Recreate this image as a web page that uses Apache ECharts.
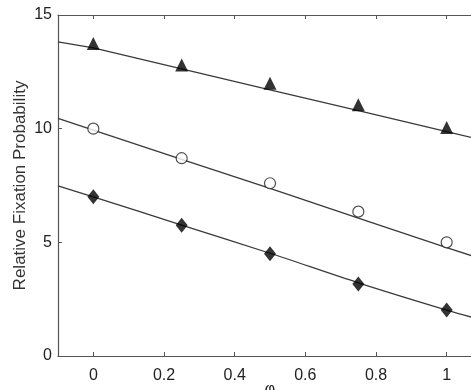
<!DOCTYPE html>
<html>
<head>
<meta charset="utf-8">
<script src="https://cdn.jsdelivr.net/npm/echarts@6/dist/echarts.min.js"></script>
<style>
  html, body { margin: 0; padding: 0; background: #fff; }
  #chart { width: 471px; height: 390px; }
</style>
</head>
<body>
<div id="chart"></div>
<script>
// Data
var xPoints = [0, 0.25, 0.5, 0.75, 1];
var triangles = [13.75, 12.8, 12.0, 11.05, 10.05];
var circles = [10.0, 8.7, 7.6, 6.35, 5.0];
var diamonds = [7.0, 5.75, 4.5, 3.17, 2.02];

// fitted curves, sampled along x
var fitX = [-0.1, 0, 0.25, 0.5, 0.75, 1, 1.1];
var fitTriangles = [13.82, 13.55, 12.63, 11.71, 10.79, 9.87, 9.5];
var fitCircles = [10.45, 9.94, 8.65, 7.37, 6.07, 4.77, 4.26];
var fitDiamonds = [7.48, 7.0, 5.76, 4.52, 3.22, 2.02, 1.58];

var xTicks = [0, 0.2, 0.4, 0.6, 0.8, 1];

function pairs(xs, ys) {
    var out = [];
    for (var i = 0; i < xs.length; i++) {
        out.push([xs[i], ys[i]]);
    }
    return out;
}

var chart = echarts.init(document.getElementById('chart'));

var font = 'Liberation Sans, Arial, sans-serif';
var axisColor = '#555';
var lineColor = '#3a3a3a';

function fitSeries(ys, smooth) {
    return {
        type: 'line',
        data: pairs(fitX, ys),
        smooth: smooth,
        showSymbol: false,
        symbol: 'none',
        lineStyle: { color: lineColor, width: 1.3 },
        z: 2,
        silent: true
    };
}

function markSeries(ys, symbol, size, filled) {
    return {
        type: 'scatter',
        data: pairs(xPoints, ys),
        symbol: symbol,
        symbolSize: size,
        itemStyle: filled ? { color: '#000' } : { color: '#fff', borderColor: '#222', borderWidth: 1.2 },
        z: 3
    };
}

chart.setOption({
    animation: false,
    textStyle: { fontFamily: font },
    grid: {
        left: 58,
        top: 15,
        width: 424,
        height: 341,
        outerBoundsMode: 'none'
    },
    xAxis: [{
        type: 'value',
        min: -0.1,
        max: 1.1,
        name: 'φ',
        nameLocation: 'middle',
        nameGap: 26,
        nameMoveOverlap: false,
        nameTextStyle: { fontSize: 16, color: '#222' },
        axisLine: { show: true, onZero: false, lineStyle: { color: axisColor, width: 1.2 } },
        axisTick: { show: true, inside: true, length: 4, customValues: xTicks, lineStyle: { color: axisColor } },
        axisLabel: { customValues: xTicks, fontSize: 16, color: '#222', margin: 12 },
        splitLine: { show: false }
    }, {
        type: 'value',
        position: 'top',
        min: -0.1,
        max: 1.1,
        axisLine: { show: true, onZero: false, lineStyle: { color: axisColor, width: 1.2 } },
        axisTick: { show: true, inside: true, length: 4, customValues: xTicks, lineStyle: { color: axisColor } },
        axisLabel: { show: false },
        splitLine: { show: false }
    }],
    yAxis: [{
        type: 'value',
        min: 0,
        max: 15,
        interval: 5,
        name: 'Relative Fixation Probability',
        nameLocation: 'middle',
        nameGap: 29,
        nameMoveOverlap: false,
        nameTextStyle: { fontSize: 17, color: '#333' },
        axisLine: { show: true, onZero: false, lineStyle: { color: axisColor, width: 1.2 } },
        axisTick: { show: true, inside: true, length: 4, lineStyle: { color: axisColor } },
        axisLabel: { fontSize: 16, color: '#222', margin: 6 },
        splitLine: { show: false }
    }],
    series: [
        fitSeries(fitTriangles, false),
        fitSeries(fitCircles, false),
        fitSeries(fitDiamonds, 0.3),
        markSeries(triangles, 'triangle', 13, true),
        markSeries(circles, 'circle', 11, false),
        markSeries(diamonds, 'diamond', [12, 15], true)
    ]
});
</script>
</body>
</html>
